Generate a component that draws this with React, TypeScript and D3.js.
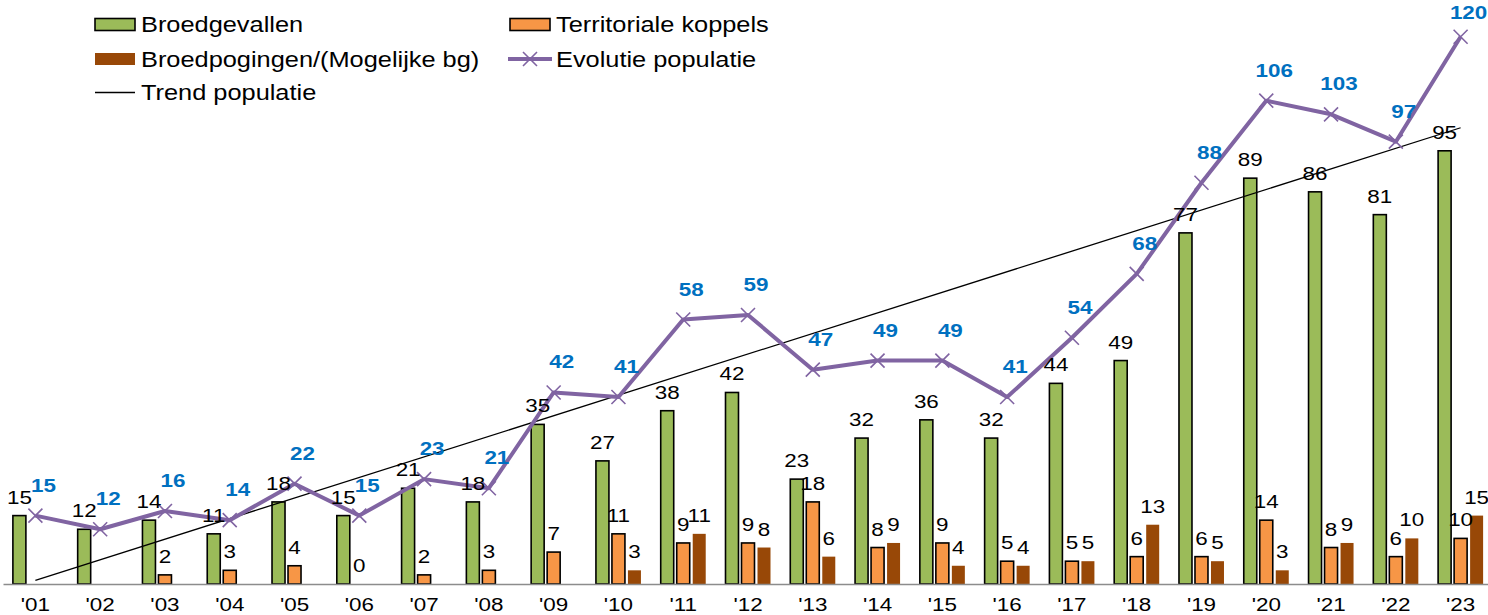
import { useEffect, useRef } from 'react'
import * as d3 from 'd3'

const years = [
  "'01", "'02", "'03", "'04", "'05", "'06", "'07", "'08", "'09", "'10", "'11", "'12",
  "'13", "'14", "'15", "'16", "'17", "'18", "'19", "'20", "'21", "'22", "'23"
]

const broedgevallen = [15, 12, 14, 11, 18, 15, 21, 18, 35, 27, 38, 42, 23, 32, 36, 32, 44, 49, 77, 89, 86, 81, 95]
const territorialeKoppels: (number | null)[] = [null, null, 2, 3, 4, 0, 2, 3, 7, 11, 9, 9, 18, 8, 9, 5, 5, 6, 6, 14, 8, 6, 10]
const broedpogingen: (number | null)[] = [null, null, null, null, null, null, null, null, null, 3, 11, 8, 6, 9, 4, 4, 5, 13, 5, 3, 9, 10, 15]
const populatie = [15, 12, 16, 14, 22, 15, 23, 21, 42, 41, 58, 59, 47, 49, 49, 41, 54, 68, 88, 106, 103, 97, 120]

const width = 1488
const height = 615
// the text in the reference is drawn a little wider than plain Arial
const SX = 1.18

const series = [
  { key: 'Broedgevallen', values: broedgevallen as (number | null)[], color: '#9BBB59', stroke: '#000' },
  { key: 'Territoriale koppels', values: territorialeKoppels, color: '#F79646', stroke: '#000' },
  { key: 'Broedpogingen/(Mogelijke bg)', values: broedpogingen, color: '#984807', stroke: 'none' }
]

export default function App() {
  const svgRef = useRef<SVGSVGElement>(null)

  useEffect(() => {
    if (!svgRef.current) return
    const svg = d3.select(svgRef.current)
    svg.selectAll('*').remove()

    const baseY = 584
    const x0 = d3.scaleBand().domain(years).range([3, 1493])
    const x1 = d3.scaleBand()
      .domain(series.map(s => s.key))
      .range([-22.5, 22.5])
      .paddingInner(0.1875)
    const y = d3.scaleLinear().domain([0, 125]).range([baseY, 14])
    const cx = (yr: string) => (x0(yr) || 0) + x0.bandwidth() / 2

    // Bars
    series.forEach(s => {
      const pts = years
        .map((yr, i) => ({ yr, v: s.values[i] }))
        .filter(d => d.v !== null) as { yr: string; v: number }[]

      svg.append('g')
        .selectAll('rect')
        .data(pts.filter(d => d.v > 0))
        .join('rect')
        .attr('x', d => cx(d.yr) + (x1(s.key) || 0))
        .attr('y', d => y(d.v))
        .attr('width', x1.bandwidth())
        .attr('height', d => baseY - y(d.v))
        .attr('fill', s.color)
        .attr('stroke', s.stroke)
        .attr('stroke-width', 1.6)
    })

    // X axis
    const xAxis = svg.append('g')
      .attr('transform', `translate(0,${baseY})`)
      .call(d3.axisBottom(x0).tickSize(0).tickPadding(14))
    xAxis.select('.domain').attr('stroke', '#8c8c8c').attr('stroke-width', 1.6)
    xAxis.selectAll('text')
      .attr('font-size', 19)
      .attr('font-family', 'Arial, "Liberation Sans", sans-serif')
      .attr('fill', '#000')
      .attr('transform', `scale(${SX},1)`)

    // Trend line (least squares on the population)
    const idx = populatie.map((_, i) => i)
    const mx = d3.mean(idx) || 0
    const my = d3.mean(populatie) || 0
    const slope = d3.sum(idx, i => (i - mx) * (populatie[i] - my)) / d3.sum(idx, i => (i - mx) ** 2)
    const intercept = my - slope * mx
    const ends = [0, years.length - 1]
    svg.append('path')
      .datum(ends)
      .attr('fill', 'none')
      .attr('stroke', '#000')
      .attr('stroke-width', 1.3)
      .attr('d', d3.line<number>()
        .x(i => cx(years[i]))
        .y(i => y(intercept + slope * i)))

    // Population line
    const line = d3.line<number>()
      .x((_, i) => cx(years[i]))
      .y(d => y(d))
    svg.append('path')
      .datum(populatie)
      .attr('fill', 'none')
      .attr('stroke', '#8064A2')
      .attr('stroke-width', 4)
      .attr('stroke-linejoin', 'round')
      .attr('d', line)

    const cross = 'M-7,-7L7,7M-7,7L7,-7'
    svg.append('g')
      .selectAll('path')
      .data(populatie)
      .join('path')
      .attr('transform', (d, i) => `translate(${cx(years[i])},${y(d)})`)
      .attr('d', cross)
      .attr('stroke', '#8064A2')
      .attr('stroke-width', 1.6)
      .attr('fill', 'none')

    // Bar labels
    series.forEach(s => {
      const pts = years
        .map((yr, i) => ({ yr, v: s.values[i] }))
        .filter(d => d.v !== null) as { yr: string; v: number }[]
      svg.append('g')
        .selectAll('text')
        .data(pts)
        .join('text')
        .attr('transform', d =>
          `translate(${cx(d.yr) + (x1(s.key) || 0) + x1.bandwidth() / 2},${y(d.v) - 12}) scale(${SX},1)`)
        .attr('text-anchor', 'middle')
        .attr('font-size', 19)
        .attr('fill', '#000')
        .text(d => d.v)
    })

    // Population labels (kept inside the top edge)
    svg.append('g')
      .selectAll('text')
      .data(populatie)
      .join('text')
      .attr('transform', (d, i) =>
        `translate(${cx(years[i]) + 8},${Math.max(y(d) - 24, 19)}) scale(${SX},1)`)
      .attr('text-anchor', 'middle')
      .attr('font-size', 19)
      .attr('font-weight', 'bold')
      .attr('fill', '#0070C0')
      .text(d => d)

    // Legend
    const legend = svg.append('g')
    const rows = [32, 66.5, 100]
    const cols = [95, 510]
    const addText = (x: number, yy: number, label: string) =>
      legend.append('text')
        .attr('transform', `translate(${x + 46},${yy}) scale(${SX},1)`)
        .attr('font-size', 21.5)
        .attr('fill', '#000')
        .text(label)
    const addBox = (x: number, yy: number, fill: string, stroke: string) =>
      legend.append('rect')
        .attr('x', x).attr('y', yy - 13.5)
        .attr('width', 40).attr('height', 12)
        .attr('fill', fill)
        .attr('stroke', stroke)
        .attr('stroke-width', 1.6)

    addBox(cols[0], rows[0], series[0].color, '#000')
    addText(cols[0], rows[0], series[0].key)
    addBox(cols[1], rows[0], series[1].color, '#000')
    addText(cols[1], rows[0], series[1].key)
    addBox(cols[0], rows[1], series[2].color, 'none')
    addText(cols[0], rows[1], series[2].key)

    legend.append('line')
      .attr('x1', cols[1] - 2).attr('x2', cols[1] + 42)
      .attr('y1', rows[1] - 7.5).attr('y2', rows[1] - 7.5)
      .attr('stroke', '#8064A2').attr('stroke-width', 4)
    legend.append('path')
      .attr('transform', `translate(${cols[1] + 20},${rows[1] - 7.5})`)
      .attr('d', cross)
      .attr('stroke', '#8064A2').attr('stroke-width', 1.6)
    addText(cols[1], rows[1], 'Evolutie populatie')

    legend.append('line')
      .attr('x1', cols[0]).attr('x2', cols[0] + 40)
      .attr('y1', rows[2] - 7.5).attr('y2', rows[2] - 7.5)
      .attr('stroke', '#000').attr('stroke-width', 1.3)
    addText(cols[0], rows[2], 'Trend populatie')
  }, [])

  return (
    <svg
      ref={svgRef}
      width={width}
      height={height}
      style={{
        position: 'absolute',
        left: 0,
        top: 0,
        background: '#fff',
        fontFamily: 'Arial, "Liberation Sans", sans-serif'
      }}
    />
  )
}
